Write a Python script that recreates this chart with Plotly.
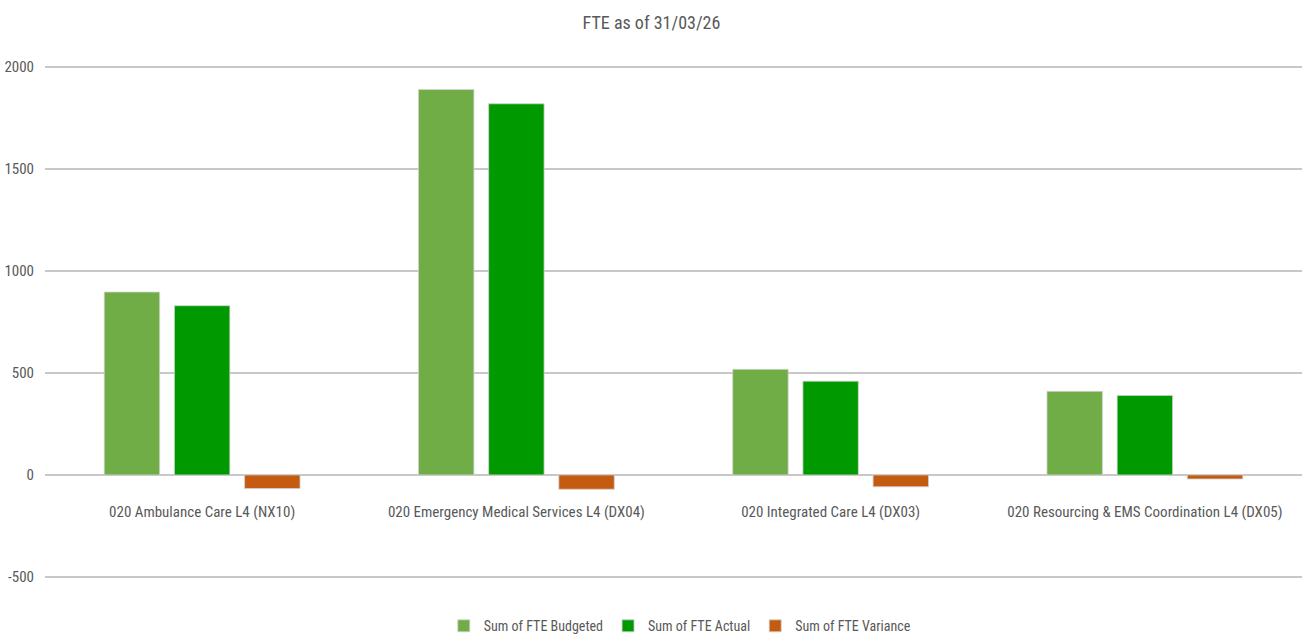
import plotly.graph_objects as go

categories = [
    "020 Ambulance Care L4 (NX10)",
    "020 Emergency Medical Services L4 (DX04)",
    "020 Integrated Care L4 (DX03)",
    "020 Resourcing & EMS Coordination L4 (DX05)",
]
budgeted = [897, 1890, 518, 410]
actual = [830, 1820, 460, 390]
variance = [-67, -70, -58, -20]

series_names = ["Sum of FTE Budgeted", "Sum of FTE Actual", "Sum of FTE Variance"]
series_colors = ["#70AD47", "#009900", "#C55A11"]
y_ticks = [-500, 0, 500, 1000, 1500, 2000]
y_tick_text = ["-500", "0", "500", "1000", "1500", "2000"]

FONT = "Liberation Sans Narrow, Roboto Condensed, Roboto, sans-serif"
GREY = "#595959"

fig = go.Figure()
for name, vals, col in zip(series_names, [budgeted, actual, variance], series_colors):
    fig.add_trace(go.Bar(
        x=categories, y=vals, name=name,
        marker=dict(color=col, line=dict(color="rgba(210,210,210,0.8)", width=1)),
    ))

fig.update_layout(
    width=1303, height=639,
    margin=dict(l=45, r=1, t=63, b=58),
    paper_bgcolor="white", plot_bgcolor="white",
    barmode="group", bargap=0.33, bargroupgap=0.21,
    font=dict(family=FONT, color=GREY, size=15),
    title=dict(text="FTE as of 31/03/26", x=0.5, xanchor="center",
               y=0.965, yanchor="middle", font=dict(size=18, color=GREY, family=FONT)),
    showlegend=True,
    legend=dict(orientation="h", x=0.505, xanchor="center", yref="container", y=0.02,
                yanchor="middle", font=dict(size=14, color=GREY, family=FONT),
                itemwidth=30, traceorder="normal"),
    xaxis=dict(showgrid=False, showline=False, ticks="", anchor="free", position=0.2,
               ticklabelstandoff=24, automargin=False,
               tickfont=dict(size=15, color=GREY, family=FONT)),
    yaxis=dict(range=[-520, 2020], tickvals=y_ticks, ticktext=y_tick_text,
               showgrid=True, gridcolor="#c8c8c8", automargin=False,
               gridwidth=2, zeroline=False, showline=False, ticks="",
               ticklabelstandoff=10, tickfont=dict(size=15, color=GREY, family=FONT)),
)

fig.write_html("out.html")
